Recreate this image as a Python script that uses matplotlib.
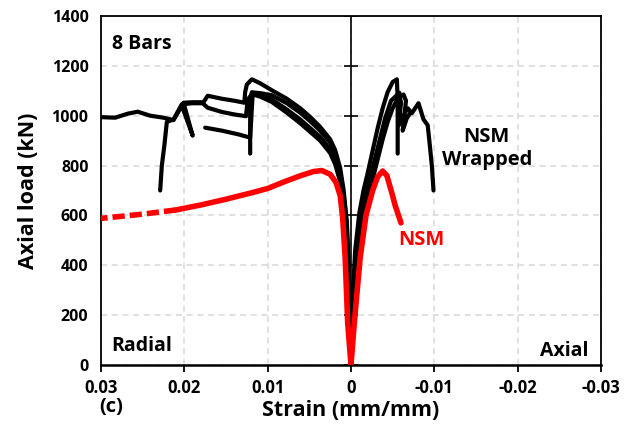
import matplotlib.pyplot as plt
import numpy as np

plt.rcParams['font.family'] = ['Open Sans', 'DejaVu Sans']
plt.rcParams['font.weight'] = 'bold'

# NSM wrapped, radial side (strain, load)
rad_a_x = [0, 0.0002, 0.0005, 0.0009, 0.0013, 0.0019, 0.0025, 0.0037, 0.0049, 0.0061, 0.0077, 0.0095, 0.0109,
           0.0119, 0.0125, 0.0127, 0.0128, 0.014, 0.0155, 0.0172, 0.0177, 0.019, 0.0201, 0.019, 0.0203, 0.0213,
           0.0225, 0.0241, 0.0256, 0.0268, 0.0283, 0.0299]
rad_a_y = [0, 310, 575, 705, 790, 862, 905, 955, 995, 1030, 1068, 1102, 1130,
           1146, 1125, 1095, 1052, 1060, 1068, 1080, 1054, 1054, 1052, 920, 1040, 982,
           992, 1000, 1016, 1008, 992, 994]
rad_b_x = [0, 0.0002, 0.0005, 0.0009, 0.0013, 0.0019, 0.0025, 0.0037, 0.0049, 0.0061, 0.0077, 0.0095, 0.0105,
           0.0118, 0.0124, 0.0126, 0.014, 0.0155, 0.0172, 0.0178, 0.019, 0.0203, 0.0213, 0.0221, 0.0224,
           0.0227, 0.0229]
rad_b_y = [0, 280, 530, 660, 750, 822, 865, 915, 950, 985, 1025, 1065, 1078,
           1090, 1065, 998, 1005, 1015, 1032, 1050, 1050, 1046, 985, 975, 880,
           800, 700]
rad_c_x = [0, 0.0002, 0.0005, 0.0009, 0.0013, 0.0019, 0.0025, 0.0037, 0.0049, 0.0061, 0.0077, 0.0095, 0.0108,
           0.0119, 0.0121, 0.0121]
rad_c_y = [0, 300, 560, 690, 775, 848, 892, 940, 978, 1012, 1050, 1082, 1090,
           1094, 1060, 848]
rad_d_x = [0, 0.0002, 0.0005, 0.0009, 0.0013, 0.0019, 0.0025, 0.0037, 0.0049, 0.0061, 0.0077, 0.0095, 0.0108,
           0.0118, 0.0121, 0.0135, 0.0155, 0.0175]
rad_d_y = [0, 270, 515, 645, 735, 805, 850, 900, 935, 970, 1012, 1055, 1075,
           1086, 912, 925, 940, 952]

# NSM wrapped, axial side
ax_a_x = [0, -0.0002, -0.0005, -0.001, -0.0015, -0.002, -0.0026, -0.0032, -0.0038, -0.0044, -0.005, -0.0055,
          -0.0056, -0.0056]
ax_a_y = [0, 270, 460, 610, 700, 770, 860, 950, 1030, 1095, 1135, 1146,
          1070, 848]
ax_b_x = [0, -0.0002, -0.0005, -0.0012, -0.0018, -0.0023, -0.0029, -0.0035, -0.0041, -0.0048, -0.0058,
          -0.006, -0.0057, -0.0063, -0.0068, -0.0073, -0.0081, -0.0087, -0.0092, -0.0094, -0.0097, -0.0099]
ax_b_y = [0, 240, 410, 580, 680, 750, 830, 910, 990, 1060, 1092,
          1050, 960, 1000, 1030, 1010, 1050, 985, 962, 900, 800, 700]
ax_c_x = [0, -0.0002, -0.0006, -0.0013, -0.002, -0.0026, -0.0032, -0.0038, -0.0044, -0.005, -0.0057, -0.0063,
          -0.0066, -0.0064, -0.0062, -0.0067, -0.0071]
ax_c_y = [0, 220, 385, 550, 665, 745, 825, 905, 975, 1030, 1075, 1085,
          1060, 1000, 940, 990, 1010]

# NSM
red_rad_x = [0, 0.0004, 0.0007, 0.001, 0.0013, 0.0018, 0.0025, 0.0035, 0.0045, 0.006, 0.008, 0.01, 0.012,
             0.015, 0.018, 0.021, 0.025, 0.03]
red_rad_y = [0, 170, 430, 590, 680, 732, 765, 780, 776, 760, 735, 708, 690,
             665, 642, 622, 605, 588]
red_ax_x = [0, -0.0004, -0.0011, -0.0018, -0.0026, -0.0032, -0.0038, -0.0043, -0.0049, -0.0053, -0.0056, -0.006]
red_ax_y = [0, 170, 430, 600, 700, 755, 778, 760, 690, 640, 610, 570]

xticks = [0.03, 0.02, 0.01, 0, -0.01, -0.02, -0.03]
xtick_labels = ['0.03', '0.02', '0.01', '0', '-0.01', '-0.02', '-0.03']
yticks = [0, 200, 400, 600, 800, 1000, 1200, 1400]

fig = plt.figure(figsize=(6.25, 4.44), dpi=100)
ax = fig.add_axes([0.1616, 0.178, 0.8, 0.786])

for xs, ys in [(rad_a_x, rad_a_y), (rad_b_x, rad_b_y), (rad_c_x, rad_c_y), (rad_d_x, rad_d_y),
               (ax_a_x, ax_a_y), (ax_b_x, ax_b_y), (ax_c_x, ax_c_y)]:
    ax.plot(xs, ys, color='black', lw=3, solid_joinstyle='round', solid_capstyle='round', zorder=3)

rx = np.array(red_rad_x)
ry = np.array(red_rad_y)
solid = rx <= 0.021
ax.plot(rx[solid], ry[solid], color='red', lw=4, solid_capstyle='round', zorder=4)
ax.plot(rx[rx >= 0.021], ry[rx >= 0.021], color='red', lw=4, dashes=(2.2, 0.9), zorder=4)
ax.plot(red_ax_x, red_ax_y, color='red', lw=4, solid_capstyle='round', zorder=4)

# vertical axis through zero with cross ticks
ax.axvline(0, color='black', lw=1.2, zorder=2)
ax.plot(np.zeros(len(yticks)), yticks, ls='none', marker='_', ms=10, mew=1.2, color='black', zorder=2)

ax.set_xlim(0.03, -0.03)
ax.set_ylim(0, 1400)
ax.set_xticks(xticks)
ax.set_xticklabels(xtick_labels)
ax.set_yticks(yticks)
ax.grid(True, color='#d9d9d9', ls=(0, (4, 3)), lw=1.1)
ax.set_axisbelow(True)
for s in ax.spines.values():
    s.set_linewidth(1.3)
ax.spines['bottom'].set_linewidth(1.8)

ax.tick_params(axis='y', length=0, pad=9, labelsize=11.5)
ax.tick_params(axis='x', direction='out', length=5, width=1.3, pad=5, labelsize=12)

ax.set_xlabel('Strain (mm/mm)', fontsize=15.5, fontweight='bold', labelpad=2)
ax.set_ylabel('Axial load (kN)', fontsize=15.5, fontweight='bold', labelpad=9)

ax.text(0.0287, 1288, '8 Bars', fontsize=14, fontweight='bold', va='center', ha='left')
ax.text(0.0288, 78, 'Radial', fontsize=14, fontweight='bold', va='center', ha='left')
ax.text(-0.0285, 58, 'Axial', fontsize=14, fontweight='bold', va='center', ha='right')
ax.text(-0.0163, 870, 'NSM\nWrapped', fontsize=14.5, fontweight='bold', va='center', ha='center',
        linespacing=1.2)
ax.text(-0.0085, 500, 'NSM', fontsize=14.5, fontweight='bold', color='red', va='center', ha='center')
fig.text(0.158, 0.083, '(c)', fontsize=14.5, fontweight='bold', va='center', ha='left')

fig.savefig('out.png', dpi=100)
